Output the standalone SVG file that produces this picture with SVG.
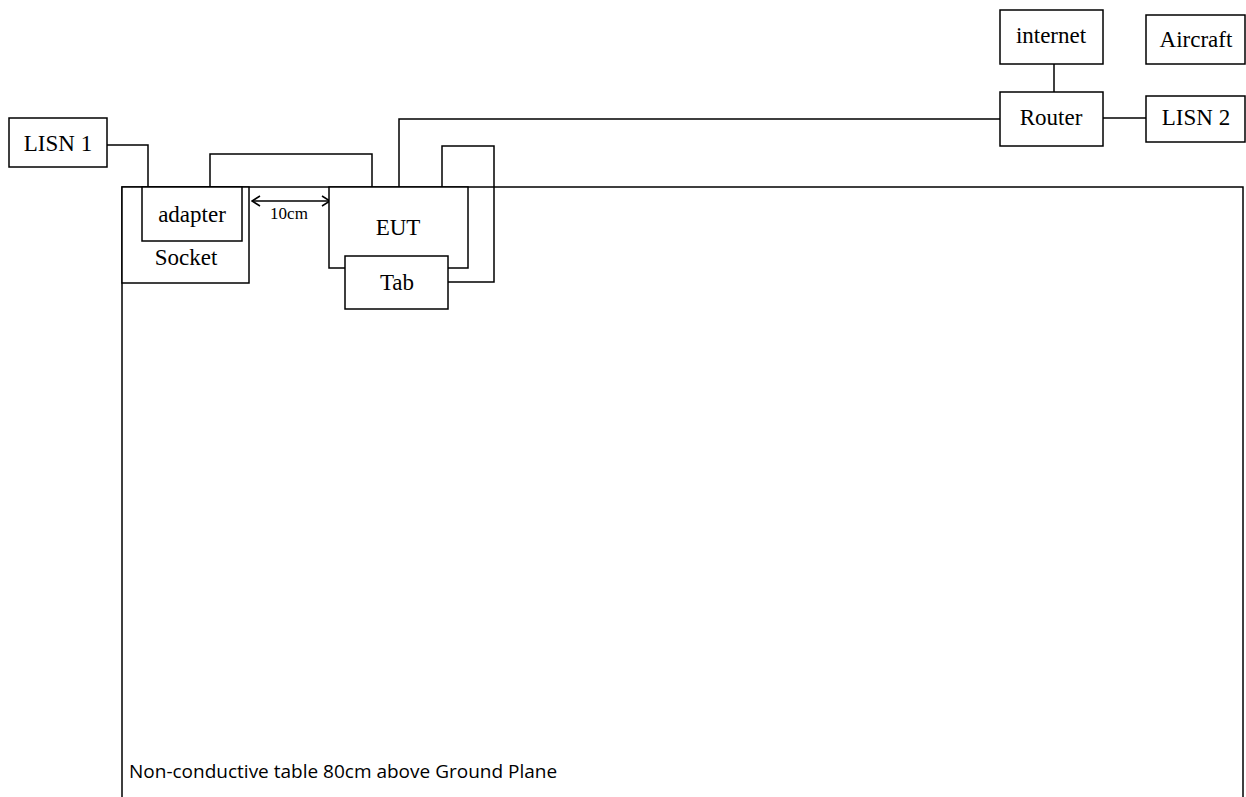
<svg xmlns="http://www.w3.org/2000/svg" width="1246" height="797" viewBox="0 0 1246 797">
<style>
.b{fill:#fff;stroke:#000;stroke-width:1.5}
.w{fill:none;stroke:#000;stroke-width:1.5}
.t{font-family:"Liberation Serif",serif;font-size:23px;fill:#000;text-anchor:middle}
.s{font-family:"Liberation Serif",serif;font-size:17px;fill:#000;text-anchor:middle}
.c{font-family:"Open Sans","Liberation Sans",sans-serif;font-size:19px;fill:#000}
</style>
<defs>
<marker id="ah" markerWidth="10" markerHeight="12" refX="9" refY="6" orient="auto-start-reverse" markerUnits="userSpaceOnUse">
<path d="M1,1 L9,6 L1,11" fill="none" stroke="#000" stroke-width="1.5"/>
</marker>
</defs>
<rect width="1246" height="797" fill="#fff"/>
<g id="table">
<path class="w" d="M122,797 V187 H1243 V797"/>
<text class="c" x="129" y="778">Non-conductive table 80cm above Ground Plane</text>
</g>
<g id="connectors">
<path class="w" d="M107,145 H148 V187"/>
<path class="w" d="M210,187 V154 H372 V187"/>
<path class="w" d="M399,187 V119 H1000"/>
<path class="w" d="M448,282 H494 V146 H442 V187"/>
<path class="w" d="M1054,64 V92"/>
<path class="w" d="M1103,118 H1146"/>
<path class="w" d="M252,201 H330" marker-start="url(#ah)" marker-end="url(#ah)"/>
<text class="s" x="289" y="219">10cm</text>
</g>
<g id="lisn1"><rect class="b" x="9" y="118" width="98" height="49"/><text class="t" x="58" y="151">LISN 1</text></g>
<g id="socket"><rect class="b" x="122" y="187" width="127" height="96"/><text class="t" x="186" y="265">Socket</text></g>
<g id="adapter"><rect class="b" x="142" y="187" width="100" height="54"/><text class="t" x="192" y="222">adapter</text></g>
<g id="eut"><rect class="b" x="329" y="187" width="139" height="81"/><text class="t" x="398" y="235">EUT</text></g>
<g id="tab"><rect class="b" x="345" y="256" width="103" height="53"/><text class="t" x="397" y="290">Tab</text></g>
<g id="internet"><rect class="b" x="1000" y="10" width="103" height="54"/><text class="t" x="1051" y="43">internet</text></g>
<g id="aircraft"><rect class="b" x="1146" y="15" width="99" height="49"/><text class="t" x="1196" y="47">Aircraft</text></g>
<g id="router"><rect class="b" x="1000" y="92" width="103" height="54"/><text class="t" x="1051" y="125">Router</text></g>
<g id="lisn2"><rect class="b" x="1146" y="96" width="99" height="46"/><text class="t" x="1196" y="125">LISN 2</text></g>
</svg>
